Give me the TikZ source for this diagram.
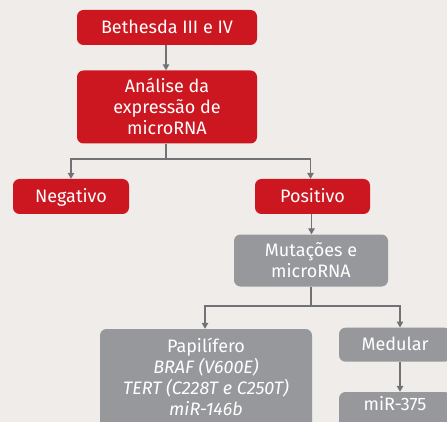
\documentclass[tikz,border=0pt]{standalone}
\usepackage{fontspec}
\setmainfont{Fira Sans}
\usetikzlibrary{arrows.meta}
\definecolor{bg}{HTML}{EFECE9}
\definecolor{redbox}{HTML}{CC1620}
\definecolor{graybox}{HTML}{97989B}
\definecolor{lin}{HTML}{707275}
\tikzset{
  box/.style={rounded corners=6.5pt, inner sep=0pt, text=white, align=center, font=\fontsize{18}{21}\selectfont},
  rbox/.style={box, fill=redbox},
  gbox/.style={box, fill=graybox},
  one/.style={text height=12.4pt, text depth=0pt},
  two/.style={text height=33.4pt, text depth=0pt},
  three/.style={text height=54.4pt, text depth=0pt},
  arr/.style={draw=lin, line width=1.3pt, -{Triangle[width=6.5pt,length=6pt]}},
  ln/.style={draw=lin, line width=1.3pt},
}
\begin{document}
\begin{tikzpicture}[x=1pt,y=-1pt]
\fill[bg] (0,0) rectangle (447,422);
\useasboundingbox (0,0) rectangle (447,422);
\clip (0,0) rectangle (447,422);
\node[rbox, one, minimum width=180pt, minimum height=35pt] (beth) at (167,27.5) {Bethesda III e IV};
\node[rbox, three, minimum width=180pt, minimum height=73pt] (ana) at (167,107) {Análise da\\expressão de\\microRNA};
\node[rbox, one, minimum width=116pt, minimum height=35pt] (neg) at (71,196.5) {Negativo};
\node[rbox, one, minimum width=115pt, minimum height=35pt] (pos) at (312.5,196.5) {Positivo};
\node[gbox, two, minimum width=154pt, minimum height=52pt] (mut) at (311,260.5) {Mutações e\\microRNA};
\node[gbox, minimum width=212pt, minimum height=120pt] (papbox) at (206,389) {};
\node[box, anchor=base] (pap) at (206,415) {Papilífero\\\itshape BRAF (V600E)\\\itshape TERT (C228T e C250T)\\\itshape miR-146b};
\node[gbox, one, minimum width=112pt, minimum height=34pt] (med) at (395,344.7) {Medular};
\node[gbox, minimum width=112pt, minimum height=60pt] (mirbox) at (395,422) {};
\node[box, anchor=base] (mir) at (395,410.7) {miR-375};
\coordinate (j1) at (166,159);
\coordinate (j2) at (311,306);
\draw[arr] (beth.south -| j1) -- (ana.north -| j1);
\draw[ln] (ana.south -| j1) -- (j1);
\draw[arr] (j1) -| (neg.north);
\draw[arr] (j1) -| ([xshift=-2pt]pos.north);
\draw[arr] ([xshift=-1pt]pos.south) -- ([xshift=-1pt]pos.south |- mut.north);
\draw[ln] (mut.south) -- (j2);
\draw[arr] (j2) -| ([xshift=-1pt]papbox.north);
\draw[arr] (j2) -| ([xshift=5pt]med.north);
\draw[arr] ([xshift=5pt]med.south) -- ([xshift=5pt]mirbox.north);
\end{tikzpicture}
\end{document}
